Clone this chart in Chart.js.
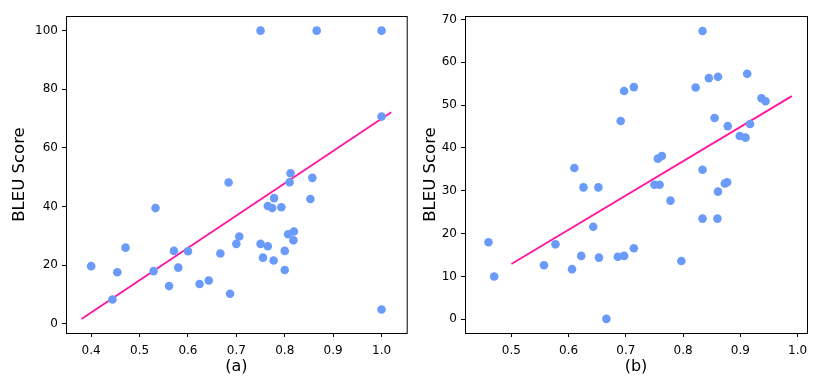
<!DOCTYPE html>
<html lang="en">
<head>
<meta charset="UTF-8">
<title>BLEU Score scatter</title>
<script src="https://cdn.jsdelivr.net/npm/chart.js@4.4.1/dist/chart.umd.min.js"></script>
<style>
    body { margin: 0; background: #fff; }
    .panel { position: absolute; top: 0; width: 411px; height: 388px; }
</style>
</head>
<body>
<div class="panel" style="left:0"><canvas id="chartA"></canvas></div>
<div class="panel" style="left:411px"><canvas id="chartB"></canvas></div>

<script>
// panel (a)
const xA = [0.75, 0.866, 1.0, 1.0, 0.684, 0.812, 0.81, 0.857, 0.533, 0.853, 0.778, 0.765, 0.774, 0.793,
            0.807, 0.819, 0.818, 0.8, 0.706, 0.70, 0.75, 0.765, 0.755, 0.777, 0.8, 0.667, 0.6, 0.571,
            0.58, 0.529, 0.471, 0.454, 0.4, 0.444, 0.561, 0.624, 0.643, 0.687, 1.0];
const yA = [100, 100, 100, 70.7, 48.2, 51.4, 48.3, 49.8, 39.5, 42.6, 42.9, 40.2, 39.5, 39.8,
            30.6, 31.5, 28.5, 24.9, 29.8, 27.3, 27.3, 26.5, 22.6, 21.6, 18.4, 24.0, 24.8, 24.9,
            19.2, 18.0, 26.0, 17.6, 19.7, 8.3, 12.9, 13.6, 14.8, 10.3, 4.9];
const trendXA = [0.38, 1.02];
const trendYA = [1.7, 72.2];
const xTicksA = [0.4, 0.5, 0.6, 0.7, 0.8, 0.9, 1.0];
const yTicksA = [0, 20, 40, 60, 80, 100];

// panel (b)
const xB = [0.834, 0.845, 0.861, 0.912, 0.822, 0.697, 0.714, 0.691, 0.937, 0.944, 0.855, 0.878, 0.917,
            0.899, 0.909, 0.756, 0.763, 0.834, 0.61, 0.877, 0.873, 0.861, 0.75, 0.759, 0.626, 0.652,
            0.778, 0.834, 0.86, 0.643, 0.46, 0.577, 0.714, 0.622, 0.653, 0.686, 0.697, 0.797,
            0.557, 0.606, 0.47, 0.666];
const yB = [67.3, 56.3, 56.6, 57.3, 54.1, 53.3, 54.2, 46.3, 51.6, 50.9, 47.0, 45.1, 45.6,
            42.8, 42.4, 37.5, 38.1, 34.9, 35.3, 32.0, 31.7, 29.8, 31.4, 31.4, 30.8, 30.8,
            27.7, 23.5, 23.5, 21.6, 18.0, 17.5, 16.6, 14.8, 14.4, 14.6, 14.8, 13.6,
            12.6, 11.7, 10.0, 0.1];
const trendXB = [0.5, 0.99];
const trendYB = [12.9, 52.1];
const xTicksB = [0.5, 0.6, 0.7, 0.8, 0.9, 1.0];
const yTicksB = [0, 10, 20, 30, 40, 50, 60, 70];

Chart.defaults.font.family = "'DejaVu Sans', sans-serif";
Chart.defaults.color = '#000';

// top/right spines
const boxPlugin = {
    id: 'box',
    afterDraw(chart) {
        const a = chart.chartArea, c = chart.ctx;
        c.save();
        c.strokeStyle = '#000';
        c.lineWidth = 1;
        c.strokeRect(a.left + 0.5, a.top + 0.5, a.right - a.left, a.bottom - a.top);
        c.restore();
    }
};

function pts(xs, ys) {
    return xs.map((x, i) => ({ x: x, y: ys[i] }));
}

function makeChart(id, o) {
    return new Chart(document.getElementById(id), {
        type: 'scatter',
        data: {
            datasets: [{
                data: pts(o.x, o.y),
                backgroundColor: '#6a9bfb',
                borderWidth: 0,
                pointRadius: 4.3
            }, {
                type: 'line',
                data: pts(o.tx, o.ty),
                borderColor: '#ff14a0',
                borderWidth: 1.8,
                pointRadius: 0,
                fill: false
            }]
        },
        options: {
            responsive: true,
            maintainAspectRatio: false,
            animation: false,
            layout: { padding: { top: 16, right: o.padRight, left: 0, bottom: 0 } },
            plugins: { legend: { display: false }, tooltip: { enabled: false } },
            scales: {
                x: {
                    type: 'linear',
                    min: o.xmin, max: o.xmax,
                    afterBuildTicks: s => { s.ticks = o.xt.map(v => ({ value: v })); },
                    afterFit: s => { s.height = 55; },
                    grid: { drawOnChartArea: false, drawTicks: true, tickLength: 4, color: '#000' },
                    border: { color: '#000' },
                    ticks: { font: { size: 12 }, padding: 7, maxRotation: 0, callback: v => v.toFixed(1) },
                    title: { display: true, text: o.label, font: { size: 16 }, padding: { top: 0, bottom: 12 } }
                },
                y: {
                    min: o.ymin, max: o.ymax,
                    afterBuildTicks: s => { s.ticks = o.yt.map(v => ({ value: v })); },
                    afterFit: s => { s.width = o.yWidth; },
                    grid: { drawOnChartArea: false, drawTicks: true, tickLength: 4, color: '#000' },
                    border: { color: '#000' },
                    ticks: { font: { size: 12 }, padding: 4 },
                    title: { display: true, text: 'BLEU Score', font: { size: 16.5 }, padding: { top: 10, bottom: 0 } }
                }
            }
        },
        plugins: [boxPlugin]
    });
}

makeChart('chartA', {
    x: xA, y: yA, tx: trendXA, ty: trendYA, xt: xTicksA, yt: yTicksA,
    xmin: 0.348, xmax: 1.052, ymin: -3.1, ymax: 105,
    label: '(a)', yWidth: 66, padRight: 3
});

makeChart('chartB', {
    x: xB, y: yB, tx: trendXB, ty: trendYB, xt: xTicksB, yt: yTicksB,
    xmin: 0.419, xmax: 1.0165, ymin: -3.2, ymax: 70.8,
    label: '(b)', yWidth: 54, padRight: 15
});
</script>
</body>
</html>
